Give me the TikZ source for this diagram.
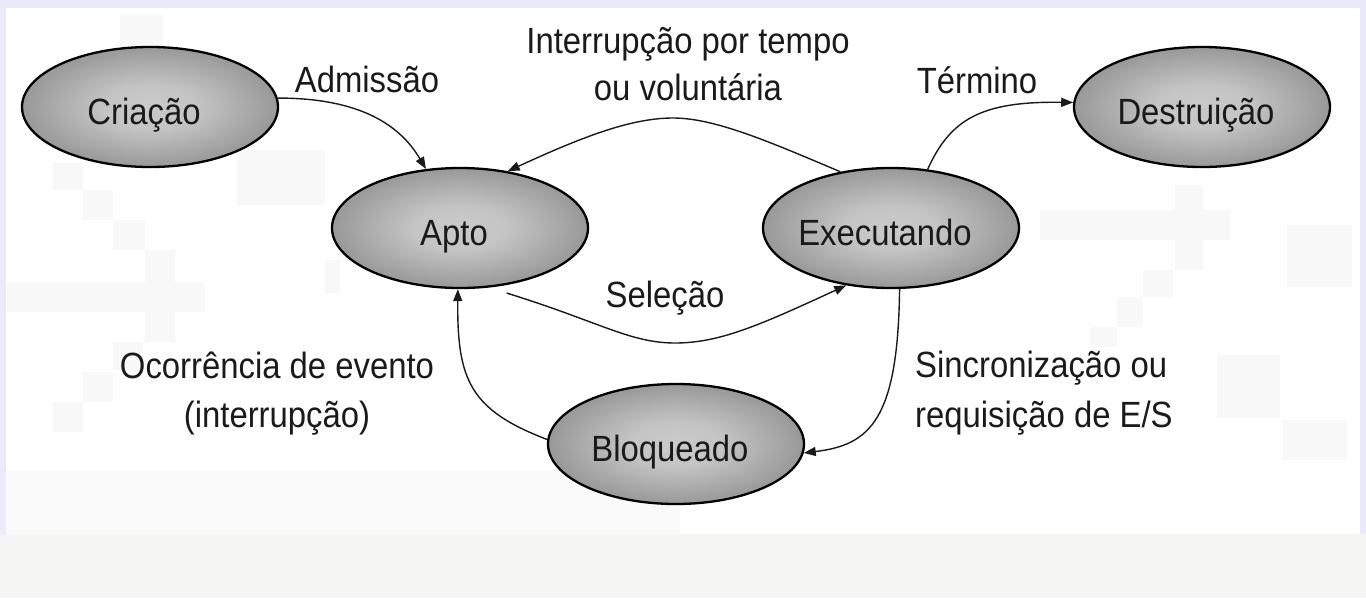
\documentclass[tikz,border=0pt]{standalone}
\usepackage{fontspec}
\setmainfont{Liberation Sans}[FakeStretch=0.9]
\usetikzlibrary{arrows.meta,shapes.geometric}
\definecolor{lav}{HTML}{EBEAFA}
\definecolor{botgray}{HTML}{F5F5F3}
\definecolor{band}{HTML}{FAFAFA}
\definecolor{sq}{HTML}{F8F8F8}
\definecolor{shA}{gray}{0.79}
\definecolor{shA2}{gray}{0.77}
\definecolor{shM}{gray}{0.62}
\definecolor{shM2}{gray}{0.46}
\definecolor{shB}{gray}{0.32}
\definecolor{txt}{HTML}{1A1A1A}
\pgfdeclareradialshading{ellsh}{\pgfpoint{0bp}{0bp}}{color(0bp)=(shA); color(9bp)=(shA2); color(23bp)=(shM); color(38bp)=(shM2); color(50bp)=(shB)}
\tikzset{
  state/.style={ellipse, draw=black, line width=2.3pt, shade, shading=ellsh,
    minimum width=256pt, minimum height=120pt, inner sep=0pt,
    text height=34pt, text depth=0pt,
    execute at begin node={\hspace*{-12pt}},
    font=\fontsize{36.5}{44}\selectfont, text=txt},
  lbl/.style={font=\fontsize{36.5}{44}\selectfont, text=txt, inner sep=0pt, anchor=base},
  conn/.style={line width=1.4pt, draw=txt, -{Triangle[length=12pt,width=9pt]}}
}
\begin{document}
\begin{tikzpicture}[x=1pt,y=-1pt]
\useasboundingbox (0,0) rectangle (1366,598);
% background
\fill[lav] (0,0) rectangle (1366,598);
\fill[white] (6,8) rectangle (1360,537);
\fill[band] (6,470) rectangle (680,537);
\fill[botgray] (0,534) rectangle (1366,598);
% faint squares
\foreach \a/\b/\c/\d in {53/163/83/190, 83/190/113/220, 113/220/145/250, 145/250/175/282,
  7/282/205/312, 145/312/175/342, 113/342/143/370, 83/372/113/402, 53/402/83/432,
  237/150/325/205, 325/260/340/293, 120/15/163/47,
  1040/210/1230/240, 1175/185/1203/270, 1143/270/1173/297, 1117/297/1143/327,
  1090/327/1117/347, 1287/225/1352/287, 1217/355/1280/418, 1283/420/1347/460}
  \fill[sq] (\a,\b) rectangle (\c,\d);
% states
\node[state] (cri) at (150,107) {Criação};
\node[state] (apto) at (460,228) {Apto};
\node[state] (exec) at (891,228) {Executando};
\node[state] (dest) at (1202,107) {Destruição};
\node[state] (bloq) at (676,444) {Bloqueado};
% connectors
\draw[conn] (cri.4) .. controls (360,98) and (400,125) .. (apto.120);
\coordinate (intpeak) at (673,118);
\draw[conn] (exec.132) .. controls (770,142) and (715,118) .. (intpeak)
  .. controls (630,118) and (580,138) .. (apto.50);
\draw[conn] (exec.58) .. controls (950,120) and (980,101) .. (dest.178);
\coordinate (selstart) at ([shift={(6,7)}]apto.-55);
\coordinate (selbot) at (675,343);
\draw[conn] (selstart) .. controls (600,322) and (630,343) .. (selbot)
  .. controls (720,343) and (760,325) .. (exec.-128);
\draw[conn] (exec.-82) .. controls (898,420) and (870,445) .. (bloq.-4);
\draw[conn] (bloq.178) .. controls (470,410) and (457,380) .. (apto.-92);
% labels
\node[lbl] (ladm) at (367,92) {Admissão};
\node[lbl] (lint1) at (688,53) {Interrupção por tempo};
\node[lbl] (lint2) at (688,100) {ou voluntária};
\node[lbl] (lter) at (977,93) {Término};
\node[lbl] (lsel) at (665,307) {Seleção};
\node[lbl] (loc1) at (277,378) {Ocorrência de evento};
\node[lbl] (loc2) at (277,427) {(interrupção)};
\node[lbl, anchor=base west] (lsin1) at (915,377) {Sincronização ou};
\node[lbl, anchor=base west] (lsin2) at (915,427) {requisição de E/S};
\end{tikzpicture}
\end{document}
